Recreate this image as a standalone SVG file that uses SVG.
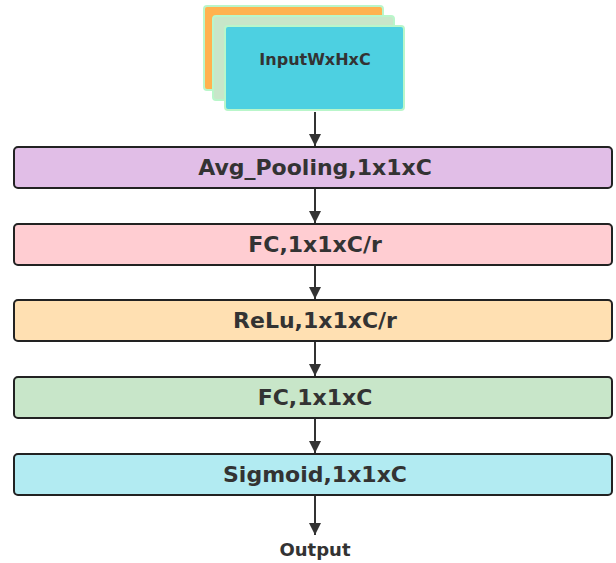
<svg xmlns="http://www.w3.org/2000/svg" width="616" height="563" viewBox="0 0 616 563">
<defs>
<style>
.box{stroke:#222;stroke-width:2}
.stk{stroke:#b9f6ca;stroke-width:2}
.lbl{font-family:"DejaVu Sans","Open Sans",sans-serif;font-weight:bold;font-size:22px;fill:#333;text-anchor:middle}
.in{font-size:16px}
.out{font-size:18px}
.con{stroke:#333;stroke-width:2;fill:none}
</style>
<marker id="ah" viewBox="0 0 12 12" refX="12" refY="6" markerWidth="12" markerHeight="12" markerUnits="userSpaceOnUse" orient="auto">
<path d="M0,0 L12,6 L0,12 z" fill="#333"/>
</marker>
</defs>
<rect width="616" height="563" fill="#fff"/>
<g id="input">
<rect class="stk" x="204" y="6" width="179" height="84" rx="3" fill="#ffb24f"/>
<rect class="stk" x="213" y="16" width="181" height="84" rx="3" fill="#c8e6c9"/>
<rect class="stk" x="225" y="26" width="179" height="84" rx="3" fill="#4dd0e1"/>
<text class="lbl in" x="315" y="65">InputWxHxC</text>
</g>
<g id="avgpool">
<rect class="box" x="14" y="147" width="598" height="41" rx="4" fill="#e1bee7"/>
<text class="lbl" x="315" y="175">Avg_Pooling,1x1xC</text>
</g>
<g id="fc1">
<rect class="box" x="14" y="224" width="598" height="41" rx="4" fill="#ffcdd2"/>
<text class="lbl" x="315" y="252">FC,1x1xC/r</text>
</g>
<g id="relu">
<rect class="box" x="14" y="300" width="598" height="41" rx="4" fill="#ffe0b2"/>
<text class="lbl" x="315" y="328">ReLu,1x1xC/r</text>
</g>
<g id="fc2">
<rect class="box" x="14" y="377" width="598" height="41" rx="4" fill="#c8e6c9"/>
<text class="lbl" x="315" y="405">FC,1x1xC</text>
</g>
<g id="sigmoid">
<rect class="box" x="14" y="454" width="598" height="41" rx="4" fill="#b2ebf2"/>
<text class="lbl" x="315" y="482">Sigmoid,1x1xC</text>
</g>
<g id="output">
<text class="lbl out" x="315" y="556">Output</text>
</g>
<g id="connectors">
<line class="con" x1="315" y1="112" x2="315" y2="146" marker-end="url(#ah)"/>
<line class="con" x1="315" y1="189" x2="315" y2="223" marker-end="url(#ah)"/>
<line class="con" x1="315" y1="266" x2="315" y2="299" marker-end="url(#ah)"/>
<line class="con" x1="315" y1="342" x2="315" y2="376" marker-end="url(#ah)"/>
<line class="con" x1="315" y1="419" x2="315" y2="453" marker-end="url(#ah)"/>
<line class="con" x1="315" y1="496" x2="315" y2="535" marker-end="url(#ah)"/>
</g>
</svg>
